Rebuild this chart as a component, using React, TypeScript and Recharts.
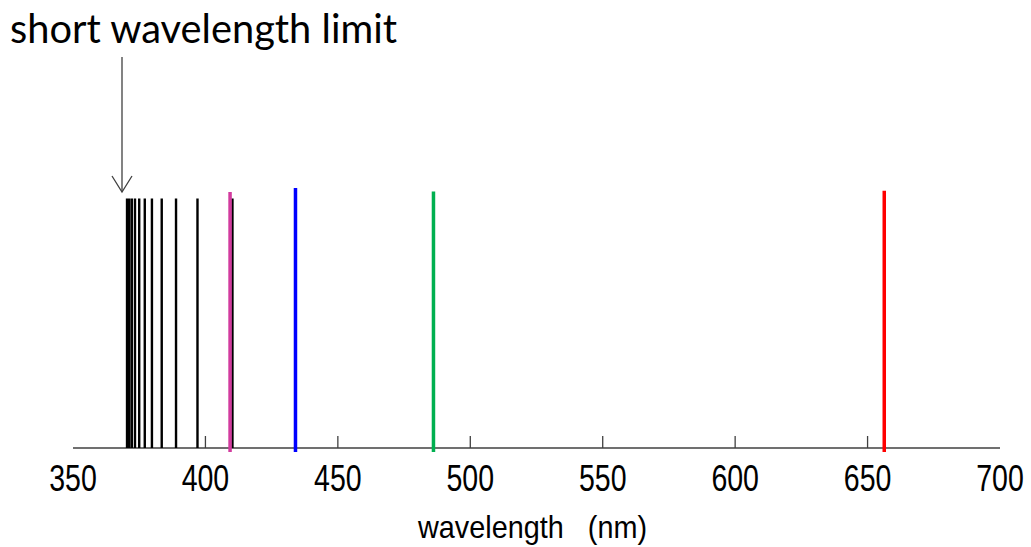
import React from 'react';
import { ComposedChart, Line, XAxis, YAxis, ReferenceLine } from 'recharts';

// Balmer lines, wavelength in nm
const BLACK_NM = [370.4, 371.2, 372.2, 373.4, 375.0, 377.1, 379.8, 383.5, 388.9, 397.0, 410.2];
const BLACK_TOP = [63.4, 63.4, 63.4, 63.4, 63.4, 63.4, 63.4, 63.4, 63.4, 63.4, 63.4];
const MAGENTA_NM = [409.3];
const MAGENTA_TOP = [65];
const BLUE_NM = [434.0];
const BLUE_TOP = [66];
const GREEN_NM = [486.1];
const GREEN_TOP = [65.1];
const RED_NM = [656.3];
const RED_TOP = [65.3];

const TICKS = [350, 400, 450, 500, 550, 600, 650, 700];
const AXIS_Y = 1;

// vertical segments with a null between them so the line breaks
const segments = (nm: number[], tops: number[], base: number) =>
  nm.flatMap((w, i) => [
    { x: w, y: base },
    { x: w, y: tops[i] },
    { x: w, y: null },
  ]);

const WaveTick = (props: any) => {
  const { x, y, payload } = props;
  const inner = payload.value !== TICKS[0] && payload.value !== TICKS[TICKS.length - 1];
  return (
    <g>
      {inner && <line x1={x} x2={x} y1={y - 4} y2={y - 16} stroke="#404040" strokeWidth={1.3} />}
      {/* tall, narrow digits like the original */}
      <text
        transform={`translate(${x}, ${y + 39}) scale(1, 1.28)`}
        x={0}
        y={0}
        textAnchor="middle"
        fill="#000"
        style={{ fontFamily: '"Liberation Sans", Arial, sans-serif', fontSize: 28.5 }}
      >
        {payload.value}
      </text>
    </g>
  );
};

const AxisLabel = (props: any) => {
  const { viewBox } = props;
  return (
    <text
      x={viewBox.x + viewBox.width / 2 - 4}
      y={viewBox.y + 86}
      textAnchor="middle"
      textLength={229}
      lengthAdjust="spacingAndGlyphs"
      fill="#000"
      xmlSpace="preserve"
      style={{ fontFamily: '"Liberation Sans", Arial, sans-serif', fontSize: 32, whiteSpace: 'pre' }}
    >
      {'wavelength   (nm)'}
    </text>
  );
};

const lineProps = {
  dataKey: 'y',
  dot: false,
  activeDot: false,
  isAnimationActive: false,
  connectNulls: false,
  type: 'linear' as const,
};

export default function App() {
  return (
    <div style={{ position: 'relative', width: 1031, height: 547, background: '#fff' }}>
      <style>{'body { margin: 0; }'}</style>
      <ComposedChart width={1031} height={547} margin={{ top: 52, right: 31, left: 73, bottom: 0 }}>
        <XAxis
          dataKey="x"
          type="number"
          domain={[350, 700]}
          ticks={TICKS}
          interval={0}
          axisLine={false}
          tickLine={false}
          tickSize={0}
          tickMargin={0}
          height={95}
          tick={<WaveTick />}
          label={{ content: <AxisLabel /> }}
        />
        <YAxis hide type="number" domain={[0, 100]} />
        <ReferenceLine y={AXIS_Y} stroke="#404040" strokeWidth={1.5} />
        <Line {...lineProps} data={segments(BLACK_NM, BLACK_TOP, AXIS_Y)} stroke="#000" strokeWidth={2.4} />
        <Line {...lineProps} data={segments(MAGENTA_NM, MAGENTA_TOP, 0)} stroke="#D23B9E" strokeWidth={3.5} />
        <Line {...lineProps} data={segments(BLUE_NM, BLUE_TOP, 0)} stroke="#0000FF" strokeWidth={3.5} />
        <Line {...lineProps} data={segments(GREEN_NM, GREEN_TOP, 0)} stroke="#00B050" strokeWidth={3.5} />
        <Line {...lineProps} data={segments(RED_NM, RED_TOP, 0)} stroke="#FF0000" strokeWidth={3.5} />
      </ComposedChart>
      <svg
        width={1031}
        height={547}
        style={{ position: 'absolute', left: 0, top: 0, pointerEvents: 'none' }}
      >
        <text
          x={10}
          y={43}
          textLength={387}
          lengthAdjust="spacingAndGlyphs"
          fill="#000"
          style={{ fontFamily: 'Lato, "Open Sans", sans-serif', fontSize: 40 }}
        >
          short wavelength limit
        </text>
        <line x1={122} x2={122} y1={57} y2={192} stroke="#404040" strokeWidth={1.3} />
        <polyline points="112,176 122,192 132,176" fill="none" stroke="#404040" strokeWidth={1.3} />
      </svg>
    </div>
  );
}
